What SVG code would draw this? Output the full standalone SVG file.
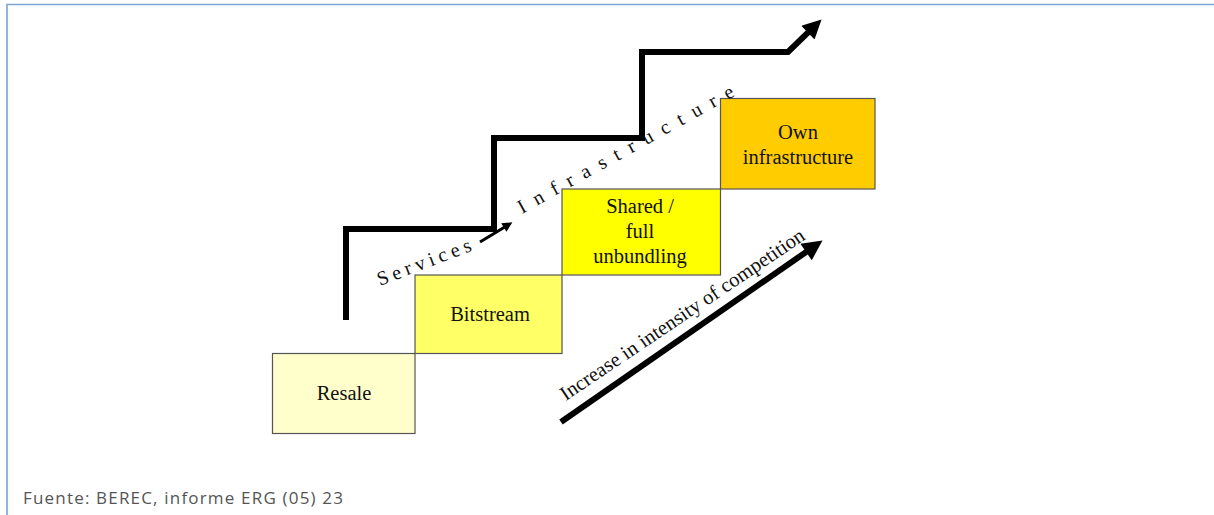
<svg xmlns="http://www.w3.org/2000/svg" width="1214" height="515" viewBox="0 0 1214 515">
  <style>
    .box { stroke: #555; stroke-width: 1.2; }
    .lbl { font-family: "Liberation Serif", "Times New Roman", serif; font-size: 20.5px; fill: #111; text-anchor: middle; }
    .diag { font-family: "Liberation Serif", "Times New Roman", serif; font-size: 20px; fill: #111; }
    .thick { fill: none; stroke: #000; stroke-width: 6; stroke-linejoin: miter; }
    .frame { stroke: #7aa6cf; stroke-width: 1.6; fill: none; }
    .src { font-family: "Open Sans", "Noto Sans", sans-serif; font-size: 17px; fill: #555; }
  </style>
  <defs>
    <marker id="headBig" viewBox="0 0 10 10" refX="3" refY="5" markerUnits="userSpaceOnUse" markerWidth="24" markerHeight="20" orient="auto">
      <path d="M0,0 L10,5 L0,10 z" fill="#000"/>
    </marker>
    <marker id="headStair" viewBox="0 0 10 10" refX="3" refY="5" markerUnits="userSpaceOnUse" markerWidth="20" markerHeight="19" orient="auto">
      <path d="M0,0 L10,5 L0,10 z" fill="#000"/>
    </marker>
    <marker id="headSmall" viewBox="0 0 10 10" refX="3" refY="5" markerUnits="userSpaceOnUse" markerWidth="11" markerHeight="10" orient="auto">
      <path d="M0,0 L10,5 L0,10 z" fill="#000"/>
    </marker>
  </defs>
  <rect width="1214" height="515" fill="#fff"/>
  <path class="frame" d="M7,515 V4.5 H1214"/>

  <g id="resale">
    <rect class="box" x="272.5" y="353.5" width="142.5" height="80" fill="#ffffcc"/>
    <text class="lbl" x="344" y="400">Resale</text>
  </g>
  <g id="bitstream">
    <rect class="box" x="415" y="275" width="147" height="78.5" fill="#ffff66"/>
    <text class="lbl" x="490" y="321">Bitstream</text>
  </g>
  <g id="shared">
    <rect class="box" x="562" y="189" width="158.5" height="86" fill="#ffff00"/>
    <text class="lbl" x="640" y="213">Shared /</text>
    <text class="lbl" x="640" y="238">full</text>
    <text class="lbl" x="640" y="263">unbundling</text>
  </g>
  <g id="own">
    <rect class="box" x="720.5" y="98.5" width="154.5" height="90.5" fill="#ffcc00"/>
    <text class="lbl" x="798" y="139">Own</text>
    <text class="lbl" x="798" y="164">infrastructure</text>
  </g>

  <g id="connectors">
    <path class="thick" d="M346,320 V229 H494 V138 H642 V52 H788 L812,28.7" marker-end="url(#headStair)"/>
    <line x1="561" y1="422" x2="811" y2="248.6" stroke="#000" stroke-width="6" marker-end="url(#headBig)"/>
    <line x1="480" y1="242" x2="506.4" y2="226" stroke="#000" stroke-width="3" marker-end="url(#headSmall)"/>
  </g>

  <g id="labels">
    <text class="diag" x="380" y="286" letter-spacing="4.5" transform="rotate(-21 380 286)">Services</text>
    <text class="diag" x="522" y="214" letter-spacing="10.4" transform="rotate(-29 522 214)">Infrastructure</text>
    <text class="lbl" x="686" y="320" transform="rotate(-34 686 320)">Increase in intensity of competition</text>
  </g>

  <text class="src" x="23" y="504" textLength="320" lengthAdjust="spacing">Fuente: BEREC, informe ERG (05) 23</text>
</svg>
